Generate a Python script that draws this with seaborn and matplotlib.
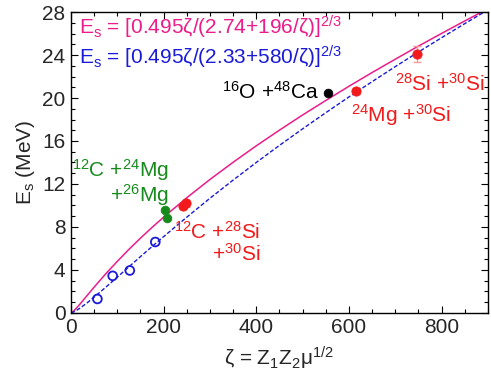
import numpy as np
import pandas as pd
import seaborn as sns
import matplotlib.pyplot as plt
from matplotlib.ticker import MultipleLocator

# curves, values
zeta_curve = [0, 2, 5, 10, 15, 20, 25, 35, 50, 75, 100, 125, 150, 175, 200, 250, 300, 350,
              400, 450, 500, 550, 600, 650, 700, 750, 800, 850, 900]
es_fit1 = [0, 0.05, 0.15, 0.37, 0.60, 0.85, 1.11, 1.63, 2.40, 3.64, 4.80, 5.91, 6.96, 7.96, 8.91,
           10.72, 12.42, 14.02, 15.55, 17.01, 18.42, 19.77, 21.09, 22.37, 23.61, 24.83, 26.01, 27.17, 28.31]
es_fit2 = [0, 0.02, 0.08, 0.19, 0.32, 0.46, 0.62, 0.94, 1.47, 2.39, 3.33, 4.29, 5.24, 6.18, 7.10,
           8.91, 10.67, 12.36, 14.00, 15.59, 17.13, 18.63, 20.10, 21.52, 22.92, 24.28, 25.61, 26.92, 28.20]

# open blue circles
zeta_open = [57, 90, 127, 182]
es_open = [1.3, 3.45, 3.95, 6.6]

# green points (12C + 24,26Mg)
zeta_green = [203.5, 206.5]
es_green = [9.6, 8.85]

# red points with error bars
zeta_red = [242, 247.5, 615, 747.5]
es_red = [9.95, 10.2, 20.65, 24.06]
err_red = [0.3, 0.3, 0.25, 0.75]

# black point
zeta_black = [554.7]
es_black = [20.5]

magenta = '#ec1c8a'
blue = '#1a1ad8'
green = '#178a1c'
red = '#f21a1a'

sns.set_theme(style='ticks')
plt.rcParams['font.family'] = ['Liberation Sans', 'DejaVu Sans']
plt.rcParams['mathtext.default'] = 'regular'

fig = plt.figure(figsize=(4.91, 3.77), dpi=100)
ax = fig.add_axes([0.1446, 0.170, 0.849, 0.798])

curves = pd.DataFrame({'zeta': zeta_curve, 'fit1': es_fit1, 'fit2': es_fit2})
sns.lineplot(data=curves, x='zeta', y='fit1', color=magenta, lw=1.1, ax=ax)
sns.lineplot(data=curves, x='zeta', y='fit2', color=blue, lw=1.0, ls=(0, (3, 1.5)), ax=ax)

ax.errorbar(zeta_red, es_red, yerr=err_red, fmt='none', ecolor='#f59a9a', elinewidth=1, capsize=3, zorder=3)
sns.scatterplot(x=zeta_open, y=es_open, marker='o', s=40, facecolors='none',
                edgecolor=blue, linewidth=1.3, ax=ax, zorder=4)
sns.scatterplot(x=zeta_green, y=es_green, color=green, s=40, edgecolor=green, ax=ax, zorder=4)
sns.scatterplot(x=zeta_red, y=es_red, color=red, s=45, edgecolor=red, ax=ax, zorder=4)
sns.scatterplot(x=zeta_black, y=es_black, color='black', s=40, edgecolor='black', ax=ax, zorder=4)

fs = 15
ax.text(18, 25.95, r'E$_s$ = [0.495ζ/(2.74+196/ζ)]$^{2/3}$', color=magenta, fontsize=fs, va='baseline')
ax.text(18, 23.15, r'E$_s$ = [0.495ζ/(2.33+580/ζ)]$^{2/3}$', color=blue, fontsize=fs, va='baseline')
ax.text(327, 19.9, r'$^{16}$O +$^{48}$Ca', color='black', fontsize=fs, va='baseline')
ax.text(699, 20.7, r'$^{28}$Si +$^{30}$Si', color=red, fontsize=fs, va='baseline')
ax.text(604, 17.75, r'$^{24}$Mg +$^{30}$Si', color=red, fontsize=fs, va='baseline')
ax.text(212, 12.7, r'$^{12}$C +$^{24}$Mg', color=green, fontsize=fs, va='baseline', ha='right')
ax.text(212, 10.35, r'+$^{26}$Mg', color=green, fontsize=fs, va='baseline', ha='right')
ax.text(409, 6.9, r'$^{12}$C +$^{28}$Si', color=red, fontsize=fs, va='baseline', ha='right')
ax.text(409, 4.85, r'+$^{30}$Si', color=red, fontsize=fs, va='baseline', ha='right')

ax.set_xlim(0, 900)
ax.set_ylim(0, 28)
ax.xaxis.set_major_locator(MultipleLocator(200))
ax.xaxis.set_minor_locator(MultipleLocator(50))
ax.yaxis.set_major_locator(MultipleLocator(4))
ax.yaxis.set_minor_locator(MultipleLocator(1))
ax.tick_params(which='both', direction='in', top=True, right=True, labelsize=fs, color='black')
ax.tick_params(which='major', length=5, width=0.8, pad=4)
ax.tick_params(which='minor', length=3, width=0.8)
for sp in ax.spines.values():
    sp.set_color('black')
    sp.set_linewidth(1.0)

ax.set_xlabel(r'ζ = Z$_1$Z$_2$μ$^{1/2}$', fontsize=fs, labelpad=5)
ax.set_ylabel(r'E$_s$ (MeV)', fontsize=fs, labelpad=4)

fig.savefig('out.png', dpi=100)
